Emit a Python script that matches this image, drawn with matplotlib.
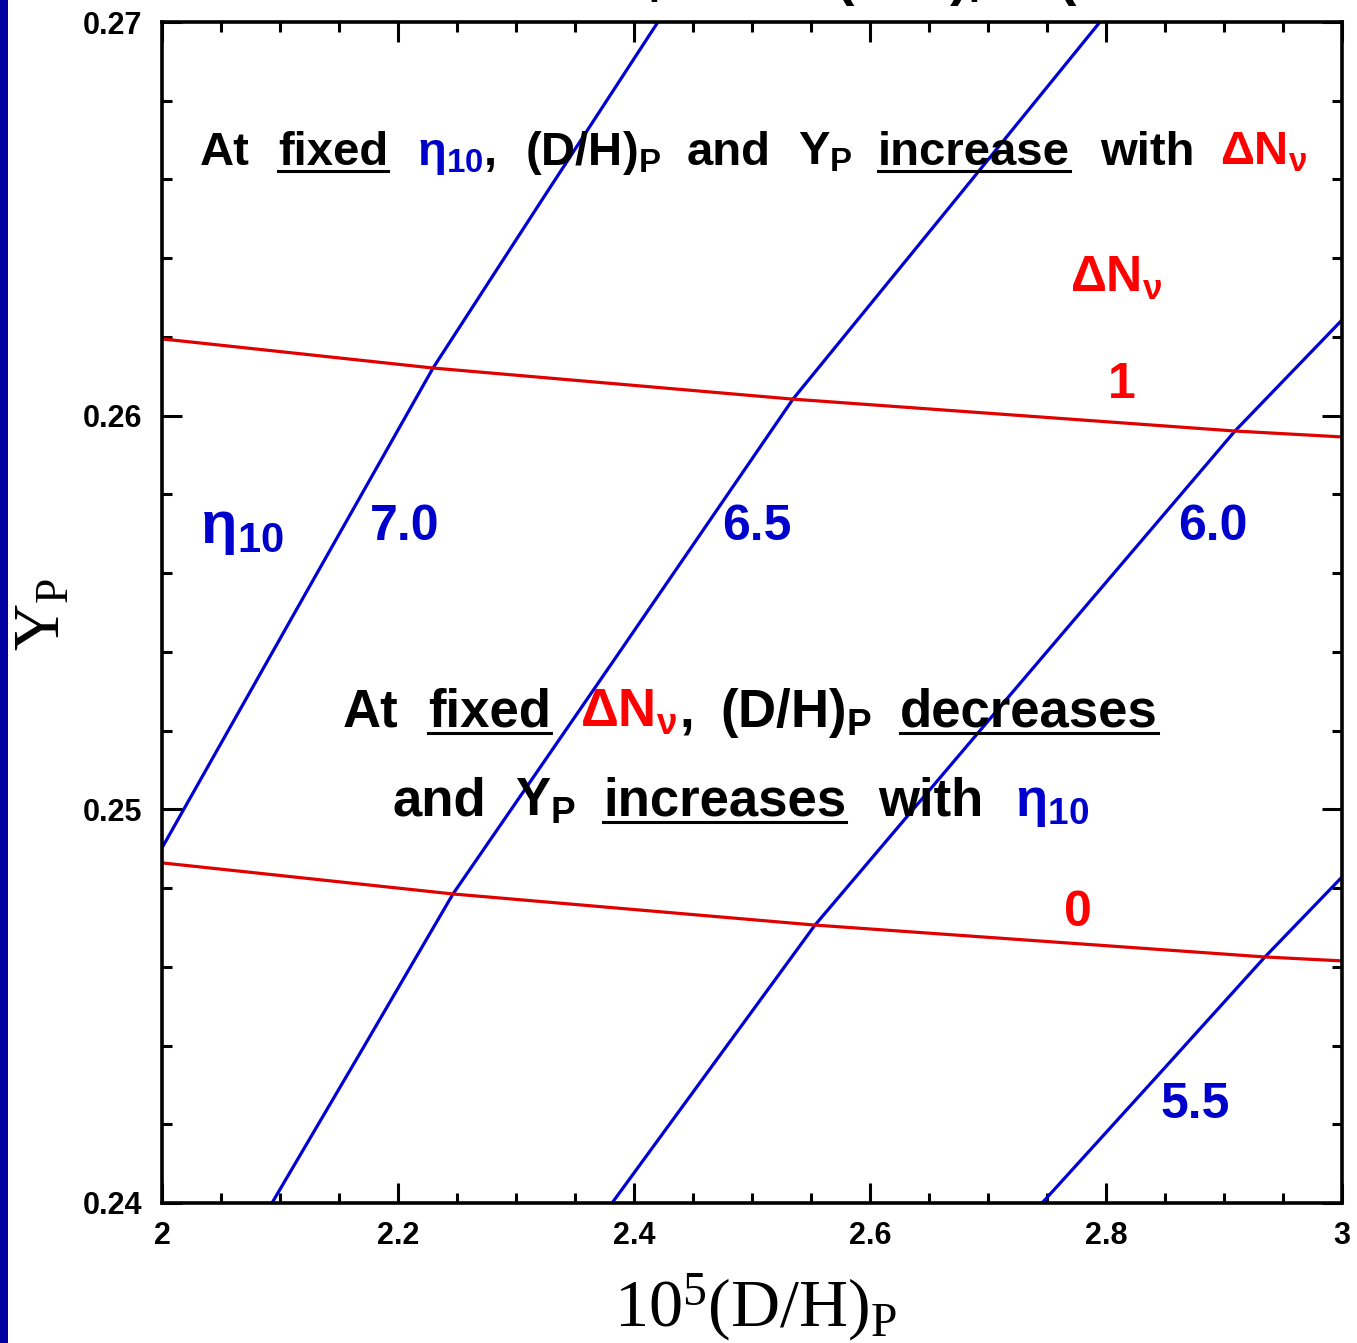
import matplotlib
matplotlib.use("Agg")
import matplotlib.pyplot as plt
from matplotlib.ticker import AutoMinorLocator
from matplotlib.lines import Line2D
from matplotlib.patches import Rectangle

plt.rcParams["mathtext.default"] = "regular"

W, H, DPI = 1357, 1343, 100

# Iso-eta10 curves: 10^5 (D/H)_P and Y_P along each curve
eta_values = ["7.0", "6.5", "6.0", "5.5"]
dh_eta70 = [2.000, 2.1186, 2.2297, 2.3220, 2.4203]
yp_eta70 = [0.24902, 0.25532, 0.26121, 0.26548, 0.27000]
dh_eta65 = [2.0932, 2.1695, 2.2466, 2.3890, 2.5347, 2.6653, 2.7949]
yp_eta65 = [0.24000, 0.24389, 0.24785, 0.25405, 0.26042, 0.26522, 0.27000]
dh_eta60 = [2.3814, 2.5534, 2.7297, 2.9093, 3.000]
yp_eta60 = [0.24000, 0.24706, 0.25329, 0.25961, 0.26243]
dh_eta55 = [2.7458, 2.8403, 2.9347, 3.000]
yp_eta55 = [0.24000, 0.24312, 0.24625, 0.24828]

# Iso-DeltaN_nu curves
dn_values = ["0", "1"]
dh_dn0 = [2.000, 2.2466, 2.5534, 2.9347, 3.000]
yp_dn0 = [0.24864, 0.24785, 0.24706, 0.24625, 0.24615]
dh_dn1 = [2.000, 2.2297, 2.5347, 2.9093, 3.000]
yp_dn1 = [0.26195, 0.26121, 0.26042, 0.25961, 0.25946]

x_ticks = [2.0, 2.2, 2.4, 2.6, 2.8, 3.0]
x_tick_labels = ["2", "2.2", "2.4", "2.6", "2.8", "3"]
y_ticks = [0.24, 0.25, 0.26, 0.27]
y_tick_labels = ["0.24", "0.25", "0.26", "0.27"]

BLUE_LINE = "#0000D2"
RED_LINE = "#E00000"
BLUE_TXT = "#0000CC"
RED_TXT = "#FF0000"

fig = plt.figure(figsize=(W / DPI, H / DPI), dpi=DPI)
fig.patch.set_facecolor("white")

# navy stripe along the left edge of the slide
fig.add_artist(Rectangle((0, 0), 8 / W, 1, transform=fig.transFigure,
                         facecolor="#0000A0", edgecolor="none"))

ax = fig.add_axes([162 / W, 1 - 1203 / H, 1180 / W, 1181 / H])
ax.set_xlim(2.0, 3.0)
ax.set_ylim(0.24, 0.27)

lw = 2.3
for dh, yp in [(dh_eta70, yp_eta70), (dh_eta65, yp_eta65),
               (dh_eta60, yp_eta60), (dh_eta55, yp_eta55)]:
    ax.plot(dh, yp, color=BLUE_LINE, lw=lw, solid_capstyle="butt")
for dh, yp in [(dh_dn0, yp_dn0), (dh_dn1, yp_dn1)]:
    ax.plot(dh, yp, color=RED_LINE, lw=lw, solid_capstyle="butt")

ax.set_xticks(x_ticks)
ax.set_xticklabels(x_tick_labels)
ax.set_yticks(y_ticks)
ax.set_yticklabels(y_tick_labels)
ax.xaxis.set_minor_locator(AutoMinorLocator(4))
ax.yaxis.set_minor_locator(AutoMinorLocator(5))
ax.tick_params(which="both", direction="in", top=True, right=True,
               width=2.2, color="black")
ax.tick_params(which="major", length=14.5)
ax.tick_params(which="minor", length=7.2)
ax.tick_params(axis="x", which="major", pad=13)
ax.tick_params(axis="y", which="major", pad=14.5)
for lab in ax.get_xticklabels() + ax.get_yticklabels():
    lab.set_fontfamily("Liberation Sans")
    lab.set_fontweight("bold")
    lab.set_fontsize(22)
for sp in ax.spines.values():
    sp.set_linewidth(2.6)

# axis titles
fig.text(756 / W, 1 - 1326 / H, "10$^{5}$(D/H)$_{P}$", family="Liberation Serif",
         fontsize=49, ha="center", va="baseline")
fig.text(43 / W, 1 - 614 / H, "Y$_{P}$", family="Liberation Serif",
         fontsize=47, ha="center", va="center", rotation=90)

underlined = []


def word(x, y, s, color="black", size=34, under=False):
    t = fig.text(x / W, 1 - y / H, s, color=color, fontsize=size,
                 fontweight="bold", family="Liberation Sans",
                 ha="left", va="baseline")
    if under:
        underlined.append((t, y))
    return t


# slide title running off the top edge
tb = -6
word(611, tb, "Y$_{P}$", size=40)
word(705, tb, "vs.", size=40)
word(835, tb, "(D/H)$_{P}$", size=40)
word(1058, tb, "(BBN PREDICTIONS)", size=40)

# first statement
b1 = 165
word(200, b1, "At")
word(278, b1, "fixed", under=True)
word(417, b1, "η$_{10}$", color=BLUE_TXT)
word(484, b1, ",")
word(525, b1, "(D/H)$_{P}$")
word(687, b1, "and")
word(798, b1, "Y$_{P}$")
word(878, b1, "increase", under=True)
word(1100, b1, "with")
word(1220, b1, "ΔN$_{ν}$", color=RED_TXT)

# curve labels
word(1070, 292, "ΔN$_{ν}$", color=RED_TXT, size=36)
word(1108, 398, "1", color=RED_TXT, size=36)
word(1064, 926, "0", color=RED_TXT, size=36)
word(200, 543, "η$_{10}$", color=BLUE_TXT, size=43)
word(370, 540, eta_values[0], color=BLUE_TXT, size=36)
word(722, 540, eta_values[1], color=BLUE_TXT, size=36)
word(1178, 540, eta_values[2], color=BLUE_TXT, size=36)
word(1160, 1118, eta_values[3], color=BLUE_TXT, size=36)

# second statement
b2 = 727
word(343, b2, "At", size=38)
word(428, b2, "fixed", size=38, under=True)
word(580, b2, "ΔN$_{ν}$", color=RED_TXT, size=38)
word(679, b2, ",", size=38)
word(720, b2, "(D/H)$_{P}$", size=38)
word(900, b2, "decreases", size=38, under=True)
b3 = 816
word(392, b3, "and", size=38)
word(515, b3, "Y$_{P}$", size=38)
word(603, b3, "increases", size=38, under=True)
word(878, b3, "with", size=38)
word(1015, b3, "η$_{10}$", color=BLUE_TXT, size=38)

fig.canvas.draw()
renderer = fig.canvas.get_renderer()
for t, y in underlined:
    bb = t.get_window_extent(renderer)
    yy = 1 - (y + 6) / H
    fig.add_artist(Line2D([bb.x0 / W, bb.x1 / W], [yy, yy],
                          transform=fig.transFigure, color="black", lw=2.2))

fig.savefig("out.png", dpi=DPI)
